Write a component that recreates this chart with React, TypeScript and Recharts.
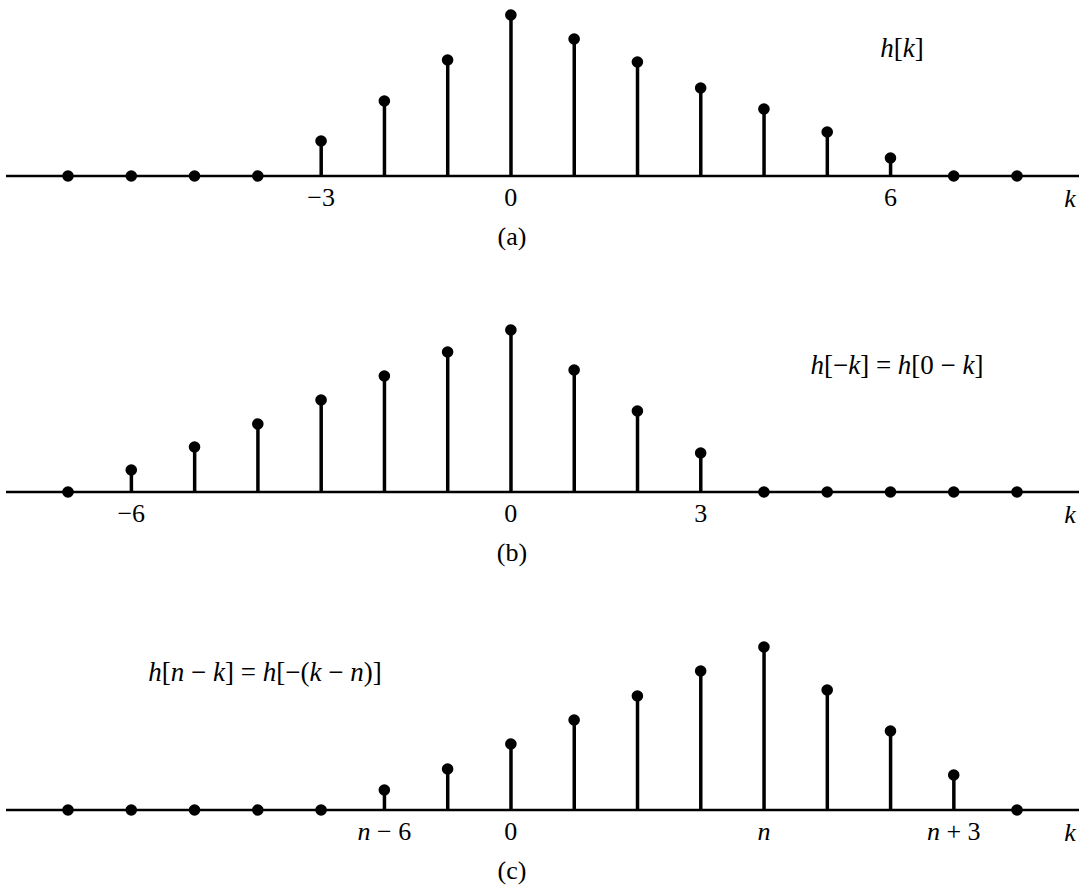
import { Bar, ComposedChart, Scatter, XAxis, YAxis } from 'recharts'

const kValues = [-7, -6, -5, -4, -3, -2, -1, 0, 1, 2, 3, 4, 5, 6, 7, 8]

// h[k]
const hA = [0, 0, 0, 0, 35, 75, 116, 161, 137, 114, 88, 67, 44, 18, 0, 0]
// h[-k]
const hB = [0, 22, 45, 68, 92, 116, 140, 162, 122, 81, 39, 0, 0, 0, 0, 0]
// h[n-k], n = 4
const hC = [0, 0, 0, 0, 0, 20, 41, 66, 90, 114, 139, 163, 120, 79, 35, 0]

const ticksA = [-3, 0, 6]
const tickLabelsA = ['−3', '0', '6']
const ticksB = [-6, 0, 3]
const tickLabelsB = ['−6', '0', '3']
const ticksC = [-2, 0, 4, 7]
const tickLabelsC = ['n − 6', '0', 'n', 'n + 3']

const FONT = "'Liberation Serif', 'Times New Roman', serif"
const W = 1087
const PLOT_H = 176
const AXIS_H = 44

// letters h, k, n set in italic, the rest upright
function MathText({ text, size = 26, ...rest }: { text: string; size?: number; [key: string]: any }) {
  const parts = text.split(/([hkn])/).filter((p) => p !== '')
  return (
    <text
      fill="#000"
      textAnchor="middle"
      style={{ fontFamily: FONT, fontSize: size }}
      {...rest}
    >
      {parts.map((p, i) => (
        <tspan key={i} style={{ fontStyle: /^[hkn]$/.test(p) ? 'italic' : 'normal' }}>
          {p}
        </tspan>
      ))}
    </text>
  )
}

function makeTick(ticks: number[], labels: string[]) {
  return (props: any) => {
    const { x, y, payload } = props
    const label = labels[ticks.indexOf(payload.value)] ?? ''
    return <MathText text={label} x={x} y={y + 30} />
  }
}

const Dot = (props: any) => <circle cx={props.cx} cy={props.cy} r={5.8} fill="#000" />

type StemPanelProps = {
  values: number[]
  ticks: number[]
  tickLabels: string[]
  top: number
}

function StemPanel({ values, ticks, tickLabels, top }: StemPanelProps) {
  const rows = kValues.map((k, i) => ({ k, v: values[i] }))
  return (
    <div style={{ position: 'absolute', left: 0, top }}>
      <ComposedChart
        width={W}
        height={PLOT_H + AXIS_H}
        data={rows}
        margin={{ top: 0, right: 8, bottom: 0, left: 6 }}
      >
        <XAxis
          dataKey="k"
          type="number"
          domain={[-7.98, 8.98]}
          ticks={ticks}
          interval={0}
          height={AXIS_H}
          tickLine={false}
          tickSize={0}
          tickMargin={0}
          axisLine={{ stroke: '#000', strokeWidth: 2.5 }}
          tick={makeTick(ticks, tickLabels)}
        />
        <YAxis type="number" domain={[0, PLOT_H]} hide />
        <Bar dataKey="v" barSize={3.5} fill="#000" isAnimationActive={false} />
        <Scatter dataKey="v" data={rows} shape={Dot} isAnimationActive={false} />
      </ComposedChart>
    </div>
  )
}

export default function App() {
  return (
    <div
      style={{
        position: 'absolute',
        left: 0,
        top: 0,
        width: W,
        height: 888,
        background: '#fff',
        overflow: 'hidden'
      }}
    >
      <StemPanel values={hA} ticks={ticksA} tickLabels={tickLabelsA} top={0} />
      <StemPanel values={hB} ticks={ticksB} tickLabels={tickLabelsB} top={316} />
      <StemPanel values={hC} ticks={ticksC} tickLabels={tickLabelsC} top={634} />
      <svg
        width={W}
        height={888}
        style={{ position: 'absolute', left: 0, top: 0, pointerEvents: 'none' }}
      >
        <MathText text="h[k]" size={27} x={902} y={57} />
        <MathText text="(a)" x={512} y={245} />
        <MathText text="k" x={1070} y={207} />

        <MathText text="h[−k] = h[0 − k]" size={27} x={897} y={374} />
        <MathText text="(b)" x={512} y={561} />
        <MathText text="k" x={1070} y={523} />

        <MathText text="h[n − k] = h[−(k − n)]" size={27} x={265} y={681} />
        <MathText text="(c)" x={512} y={879} />
        <MathText text="k" x={1070} y={841} />
      </svg>
    </div>
  )
}
